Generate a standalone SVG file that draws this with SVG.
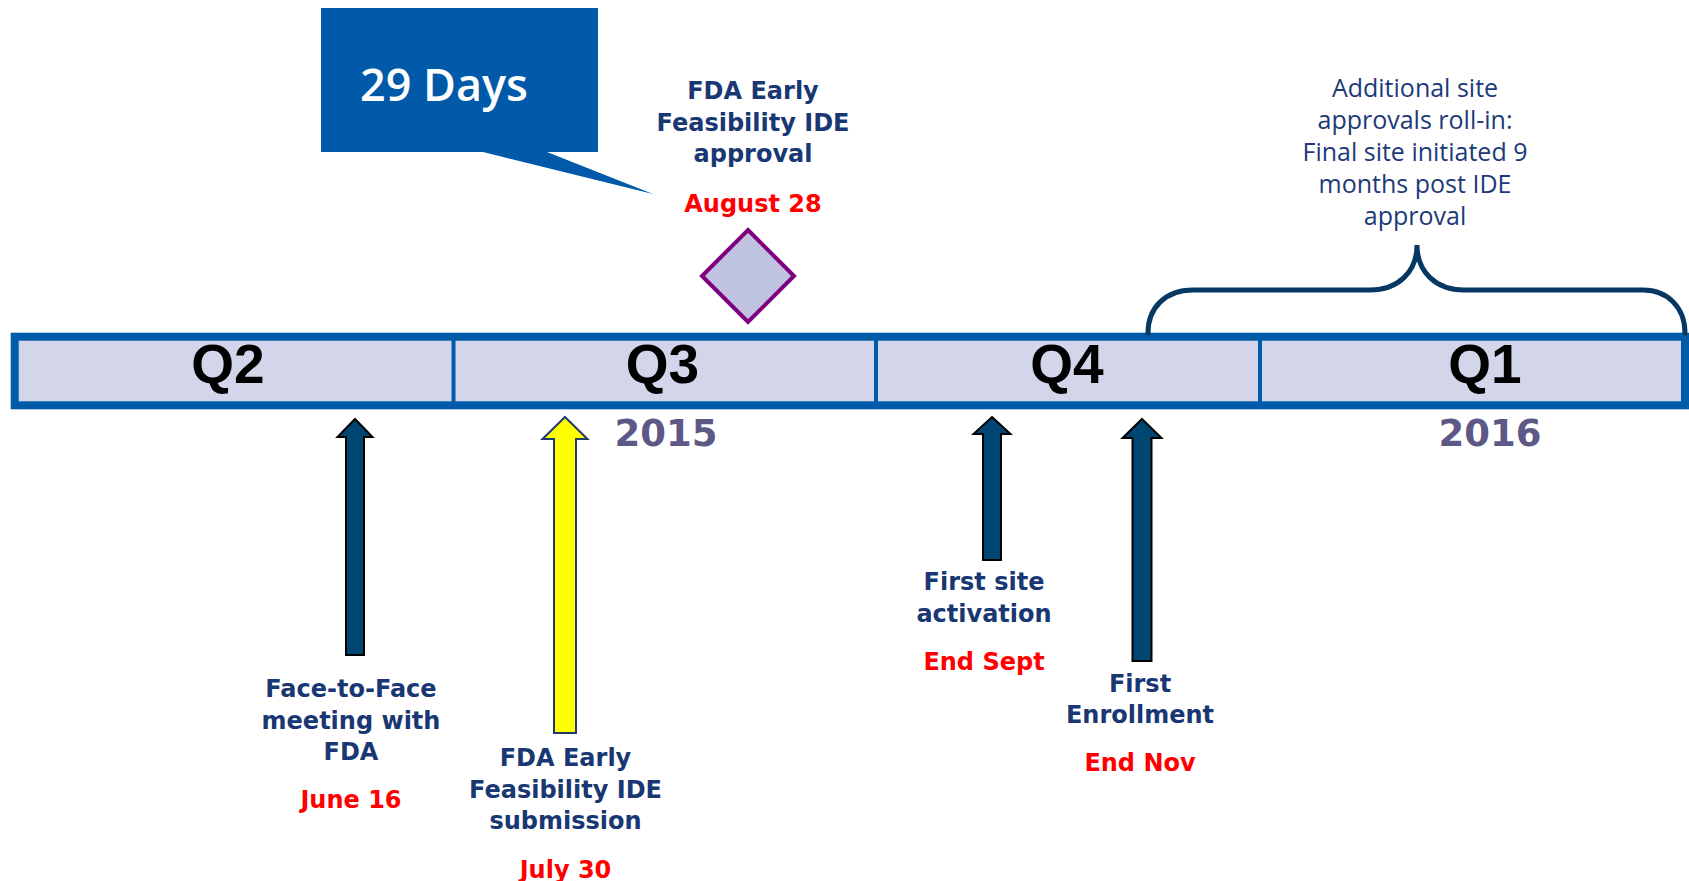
<svg xmlns="http://www.w3.org/2000/svg" width="1689" height="881" viewBox="0 0 1689 881">
  <style>
    .lbl { font-family: "DejaVu Sans", Verdana, sans-serif; font-weight: bold; font-size: 24px; fill: #193773; text-anchor: middle; }
    .date { font-family: "DejaVu Sans", Verdana, sans-serif; font-weight: bold; font-size: 24px; fill: #FF0000; text-anchor: middle; }
    .note { font-family: "Open Sans", "DejaVu Sans", sans-serif; font-size: 25px; fill: #1C3A78; text-anchor: middle; }
    .quarter { font-family: "Liberation Sans", Arial, sans-serif; font-weight: bold; font-size: 55px; fill: #000000; text-anchor: middle; }
    .year { font-family: "DejaVu Sans", Verdana, sans-serif; font-weight: bold; font-size: 37px; fill: #5E5886; text-anchor: middle; }
    .divider { stroke: #005BA8; stroke-width: 4; }
    .arrow-dark { fill: #004673; stroke: #000000; stroke-width: 2; stroke-linejoin: miter; }
    .arrow-yellow { fill: #FFFF00; stroke: #1F3A6E; stroke-width: 2; stroke-linejoin: miter; }
  </style>

  <rect width="1689" height="881" fill="#FFFFFF"/>

  <!-- Timeline bar with quarter cells -->
  <g id="timeline">
    <rect x="14.7" y="336.7" width="1670.3" height="68.6" fill="#D3D5EA" stroke="#005BA8" stroke-width="8"/>
    <line class="divider" x1="453.5" y1="338" x2="453.5" y2="404"/>
    <line class="divider" x1="876" y1="338" x2="876" y2="404"/>
    <line class="divider" x1="1260" y1="338" x2="1260" y2="404"/>
    <text class="quarter" x="228" y="383">Q2</text>
    <text class="quarter" x="662.5" y="383">Q3</text>
    <text class="quarter" x="1067" y="383">Q4</text>
    <text class="quarter" x="1485" y="383">Q1</text>
    <text class="year" x="666" y="446">2015</text>
    <text class="year" x="1490" y="446">2016</text>
  </g>

  <!-- Callout with duration -->
  <g id="callout-29-days">
    <polygon points="321,8 598,8 598,152 547,152 653,194 483,152 321,152" fill="#005AA9"/>
    <text x="360" y="101" font-family="'Open Sans', 'DejaVu Sans', sans-serif" font-size="46" font-weight="600" textLength="168" lengthAdjust="spacingAndGlyphs" fill="#FFFFFF">29 Days</text>
  </g>

  <!-- IDE approval milestone (diamond) -->
  <g id="ide-approval">
    <text class="lbl" x="753" y="99">FDA Early</text>
    <text class="lbl" x="753" y="130.5">Feasibility IDE</text>
    <text class="lbl" x="753" y="162">approval</text>
    <text class="date" x="753" y="212">August 28</text>
    <polygon points="748,230 794,276 748,322 702,276" fill="#C0C3E0" stroke="#7F007F" stroke-width="4"/>
  </g>

  <!-- Site roll-in note -->
  <g id="site-rollin">
    <text class="note" x="1415" y="97">Additional site</text>
    <text class="note" x="1415" y="129">approvals roll-in:</text>
    <text class="note" x="1415" y="161">Final site initiated 9</text>
    <text class="note" x="1415" y="193">months post IDE</text>
    <text class="note" x="1415" y="225">approval</text>
  </g>

  <g id="face-to-face">
    <text class="lbl" x="351" y="697">Face-to-Face</text>
    <text class="lbl" x="351" y="728.5">meeting with</text>
    <text class="lbl" x="351" y="760">FDA</text>
    <text class="date" x="351" y="808">June 16</text>
  </g>

  <g id="ide-submission">
    <text class="lbl" x="565.5" y="766">FDA Early</text>
    <text class="lbl" x="565.5" y="797.5">Feasibility IDE</text>
    <text class="lbl" x="565.5" y="829">submission</text>
    <text class="date" x="565.5" y="878">July 30</text>
  </g>

  <g id="first-site">
    <text class="lbl" x="984" y="590">First site</text>
    <text class="lbl" x="984" y="622">activation</text>
    <text class="date" x="984" y="670">End Sept</text>
  </g>

  <g id="first-enrollment">
    <text class="lbl" x="1140" y="692">First</text>
    <text class="lbl" x="1140" y="723">Enrollment</text>
    <text class="date" x="1140" y="771">End Nov</text>
  </g>

  <!-- Pointer arrows and span brace -->
  <g id="connectors">
    <polygon class="arrow-dark" points="355,419 372.5,437 364,437 364,655 346,655 346,437 337.5,437"/>
    <polygon class="arrow-yellow" points="565,417 587.5,439 576,439 576,733 554,733 554,439 542.5,439"/>
    <polygon class="arrow-dark" points="992,417 1010.5,434 1001,434 1001,560 983,560 983,434 973.5,434"/>
    <polygon class="arrow-dark" points="1142,419 1161.5,438 1151.5,438 1151.5,661 1132.5,661 1132.5,438 1122.5,438"/>
    <path d="M1148,333 C1148,308 1165,290 1193,290 L1370,290 C1398,290 1417,272 1417,245 C1417,272 1436,290 1464,290 L1643,290 C1668,290 1685,308 1685,333" fill="none" stroke="#073763" stroke-width="5" stroke-linecap="round"/>
  </g>
</svg>
